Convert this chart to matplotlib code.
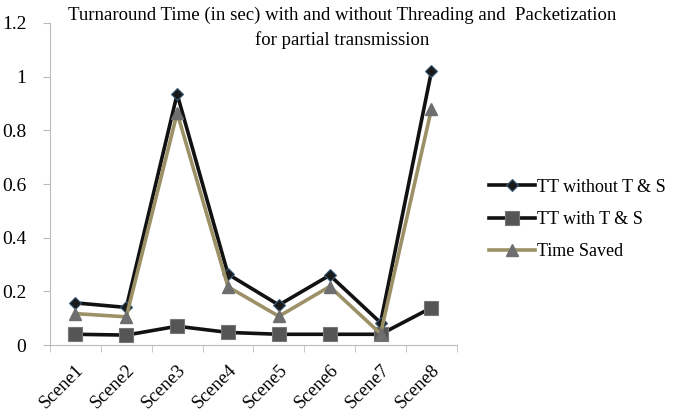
import numpy as np
import matplotlib
matplotlib.use('Agg')
import matplotlib.pyplot as plt

# data
scenes = ['Scene1', 'Scene2', 'Scene3', 'Scene4', 'Scene5', 'Scene6', 'Scene7', 'Scene8']
tt_without = [0.157, 0.14, 0.935, 0.264, 0.149, 0.26, 0.083, 1.02]
tt_with = [0.04, 0.037, 0.07, 0.047, 0.04, 0.04, 0.04, 0.139]
time_saved = [0.117, 0.105, 0.865, 0.217, 0.107, 0.218, 0.042, 0.88]
yticks = [0, 0.2, 0.4, 0.6, 0.8, 1, 1.2]
ytick_labels = ['0', '0.2', '0.4', '0.6', '0.8', '1', '1.2']

plt.rcParams['font.family'] = ['Liberation Serif', 'DejaVu Serif']

fig = plt.figure(figsize=(6.85, 4.18), dpi=100)
ax = fig.add_axes([0.073, 0.1746, 0.594, 0.7704])

x = np.arange(len(scenes))
ax.plot(x, tt_without, '-', color='#111111', lw=2.6, marker='D', ms=6.5,
        mfc='#1a1a1a', mec='#3a5a7a', mew=0.8, label='TT without T & S', zorder=4)
ax.plot(x, tt_with, '-', color='#111111', lw=2.6, marker='s', ms=10,
        mfc='#555555', mec='#777777', mew=0.8, label='TT with T & S', zorder=3)
ax.plot(x, time_saved, '-', color='#9c9166', lw=2.6, marker='^', ms=9,
        mfc='#6e6e6e', mec='#6e6e6e', label='Time Saved', zorder=5)

ax.set_xlim(-0.5, len(scenes) - 0.5)
ax.set_ylim(0, 1.2)
ax.set_yticks(yticks)
ax.set_yticklabels(ytick_labels, fontsize=14)
ax.set_xticks(x)
ax.set_xticklabels(scenes, rotation=45, fontsize=13.5, ha='right', rotation_mode='anchor')
ax.set_xticks(np.arange(-0.5, len(scenes)), minor=True)
ax.tick_params(axis='x', which='major', length=0, pad=12)
ax.tick_params(axis='x', which='minor', length=5, color='#bbbbbb')
ax.tick_params(axis='y', length=5, color='#bbbbbb', pad=12)

for s in ['top', 'right']:
    ax.spines[s].set_visible(False)
for s in ['left', 'bottom']:
    ax.spines[s].set_color('#bbbbbb')

fig.text(0.5, 0.963, 'Turnaround Time (in sec) with and without Threading and  Packetization',
         ha='center', va='center', fontsize=13.5)
fig.text(0.5, 0.903, 'for partial transmission', ha='center', va='center', fontsize=13.5)

ax.legend(loc='center left', bbox_to_anchor=(1.06, 0.39), frameon=False, fontsize=13,
          handlelength=2.6, handletextpad=0.1, labelspacing=0.85, borderaxespad=0)

fig.savefig('out.png', dpi=100)
